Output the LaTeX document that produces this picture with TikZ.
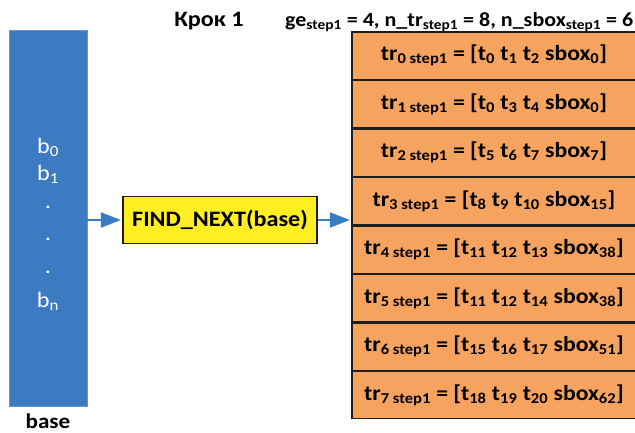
\documentclass[tikz,border=0pt]{standalone}
\usepackage{fontspec}
\setmainfont{Carlito}[FakeStretch=1.1]
\usetikzlibrary{arrows.meta,positioning}
\definecolor{baseblue}{RGB}{60,123,194}
\definecolor{arrblue}{RGB}{58,124,196}
\definecolor{rowora}{RGB}{246,163,96}
\definecolor{findyel}{RGB}{255,238,34}
\definecolor{edge}{RGB}{30,30,30}
\newcommand{\lo}[1]{\textsubscript{#1}}
\tikzset{
  basebox/.style={fill=baseblue, draw=baseblue!80!white, line width=0.8pt, minimum width=78pt, minimum height=376pt, inner sep=0pt},
  btext/.style={text=white, font=\fontsize{22}{24}\selectfont, inner sep=0pt},
  findbox/.style={fill=findyel, draw=edge, line width=1.3pt, minimum width=194pt, minimum height=47pt, inner sep=0pt, font=\bfseries\fontsize{22}{24}\selectfont},
  rowbox/.style={fill=rowora, draw=edge, line width=1.3pt, minimum width=284pt, minimum height=47.2pt, inner sep=0pt, font=\bfseries\fontsize{21.5}{24}\selectfont},
  arr/.style={draw=arrblue, line width=2pt, -{Triangle[length=20pt,width=15pt]}, shorten >=1.5pt},
  head/.style={font=\bfseries\fontsize{22}{24}\selectfont, inner sep=0pt}
}
\begin{document}
\begin{tikzpicture}[x=1pt,y=-1pt]
\useasboundingbox (0,0) rectangle (635,432);
\clip (0,0) rectangle (635,432);

% input vector
\node[basebox] (base) at (48,218) {};
\node[btext] (b0) at (48,147) {b\lo{0}};
\node[btext] (b1) at (48,174) {b\lo{1}};
\node[btext] (d1) at (48,207) {.};
\node[btext] (d2) at (48,239) {.};
\node[btext] (d3) at (48,272) {.};
\node[btext] (bn) at (48,301) {b\lo{n}};
\node[head, anchor=base, font=\bfseries\fontsize{21}{24}\selectfont] (baselbl) at (48,428) {base};

% procedure
\node[findbox] (find) at (220,220) {FIND\_NEXT(base)};

% header
\node[head, anchor=base] (step) at (209,26) {Крок 1};
\node[head, anchor=base west, font=\bfseries\fontsize{20}{24}\selectfont] (params) at (285,26)
  {ge\lo{step1} = 4, n\_tr\lo{step1} = 8, n\_sbox\lo{step1} = 6};

% result rows
\node[rowbox] (r0) at (494,55.6) {tr\lo{0 step1} = [t\lo{0} t\lo{1} t\lo{2} sbox\lo{0}]};
\node[rowbox, below=0pt of r0] (r1) {tr\lo{1 step1} = [t\lo{0} t\lo{3} t\lo{4} sbox\lo{0}]};
\node[rowbox, below=0pt of r1] (r2) {tr\lo{2 step1} = [t\lo{5} t\lo{6} t\lo{7} sbox\lo{7}]};
\node[rowbox, below=0pt of r2] (r3) {tr\lo{3 step1} = [t\lo{8} t\lo{9} t\lo{10} sbox\lo{15}]};
\node[rowbox, below=0pt of r3] (r4) {tr\lo{4 step1} = [t\lo{11} t\lo{12} t\lo{13} sbox\lo{38}]};
\node[rowbox, below=0pt of r4] (r5) {tr\lo{5 step1} = [t\lo{11} t\lo{12} t\lo{14} sbox\lo{38}]};
\node[rowbox, below=0pt of r5] (r6) {tr\lo{6 step1} = [t\lo{15} t\lo{16} t\lo{17} sbox\lo{51}]};
\node[rowbox, below=0pt of r6] (r7) {tr\lo{7 step1} = [t\lo{18} t\lo{19} t\lo{20} sbox\lo{62}]};

% connectors
\draw[arr] (find.west -| base.east) -- (find.west);
\draw[arr] (find.east) -- (find.east -| r3.west);
\end{tikzpicture}
\end{document}
